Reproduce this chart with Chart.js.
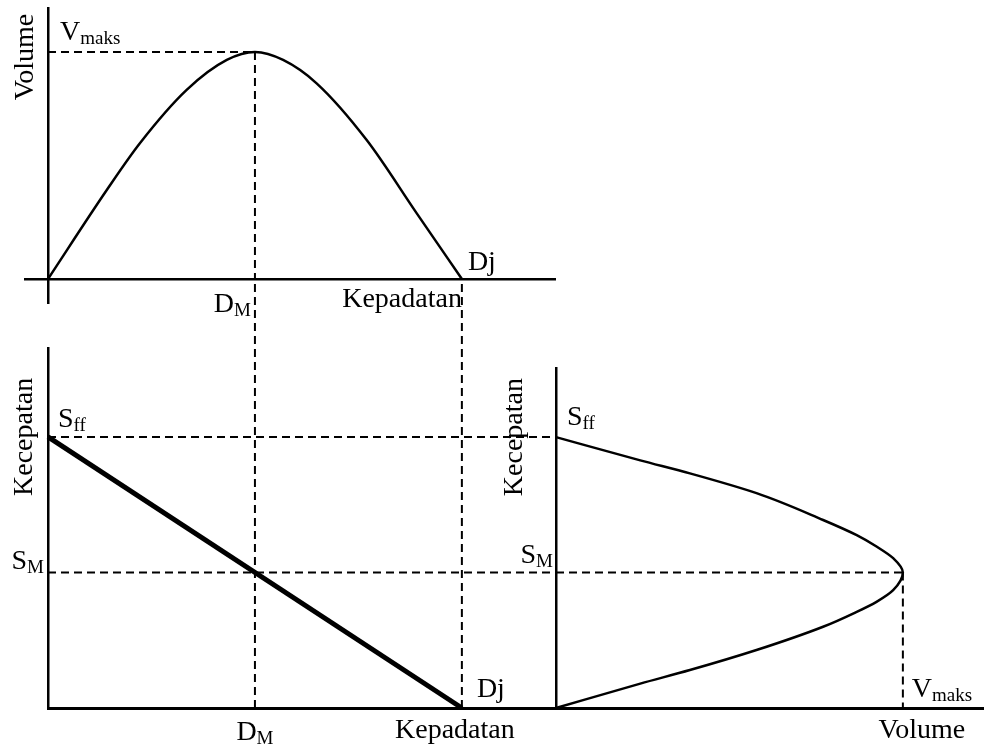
<!DOCTYPE html>
<html>
<head>
<meta charset="utf-8">
<title>Hubungan Volume, Kecepatan dan Kepadatan</title>
<script src="https://cdn.jsdelivr.net/npm/chart.js@4.4.0/dist/chart.umd.min.js"></script>
<style>
  html, body { margin: 0; padding: 0; background: #fff; }
  #wrap { position: relative; width: 988px; height: 747px; }
  #wrap canvas { position: absolute; left: 0; top: 0; }
</style>
</head>
<body>
<div id="wrap">
  <canvas id="flowChart" width="988" height="747"></canvas>
  <canvas id="speedChart" width="988" height="747"></canvas>
  <canvas id="svChart" width="988" height="747"></canvas>
</div>
<script>
// key points, normalised units
const D_M = 0.5, D_J = 1, V_MAKS = 1, S_FF = 1, S_M = 0.5;

// Volume vs Kepadatan (top panel)
const flowDensity = [0, 0.142, 0.222, 0.335, 0.432, 0.5, 0.568, 0.649, 0.77, 0.891, 1];
const flowVolume  = [0, 0.392, 0.598, 0.833, 0.965, 1, 0.965, 0.862, 0.612, 0.289, 0];

// Kecepatan vs Kepadatan (bottom left)
const speedDensity = [0, 1];
const speedValue   = [1, 0];

// Kecepatan vs Volume (bottom right), traced from S_ff down to zero
const svSpeed  = [1, 0.914, 0.866, 0.793, 0.694, 0.638, 0.596, 0.553, 0.5, 0.435, 0.392, 0.355, 0.3, 0.214, 0.14, 0.09, 0];
const svVolume = [0, 0.243, 0.386, 0.578, 0.77, 0.867, 0.924, 0.972, 1, 0.972, 0.924, 0.867, 0.77, 0.578, 0.386, 0.243, 0];

// speed value (lower panel) reached by the vertical guides at the upper axis
const GUIDE_TOP = 1.583;

const FONT = '"Liberation Serif", "Times New Roman", serif';
const MAIN = 28, SUB = 19;

const pts = (xs, ys) => xs.map((x, i) => ({ x: x, y: ys[i] }));

function guide(data) {
    return {
        data: data, showLine: true, borderColor: '#000', borderWidth: 2,
        borderDash: [8, 5], pointRadius: 0, tension: 0, clip: false
    };
}

function curve(data, width, extra) {
    return Object.assign({
        data: data, showLine: true, borderColor: '#000', borderWidth: width,
        pointRadius: 0, clip: false
    }, extra || {});
}

function axes(xMin, xMax, yMin, yMax, xWidth, yWidth) {
    const common = { type: 'linear', grid: { display: false }, ticks: { display: false } };
    return {
        x: Object.assign({}, common, { min: xMin, max: xMax, position: { y: 0 }, border: { color: '#000', width: xWidth } }),
        y: Object.assign({}, common, { min: yMin, max: yMax, position: { x: 0 }, border: { color: '#000', width: yWidth } })
    };
}

function drawLabel(ctx, main, sub, x, y, align) {
    ctx.save();
    ctx.fillStyle = '#000';
    ctx.textAlign = 'left';
    ctx.textBaseline = 'alphabetic';
    ctx.font = MAIN + 'px ' + FONT;
    const w1 = ctx.measureText(main).width;
    let w2 = 0;
    if (sub) {
        ctx.font = SUB + 'px ' + FONT;
        w2 = ctx.measureText(sub).width;
    }
    const total = w1 + w2;
    const left = align === 'right' ? x - total : align === 'center' ? x - total / 2 : x;
    ctx.font = MAIN + 'px ' + FONT;
    ctx.fillText(main, left, y);
    if (sub) {
        ctx.font = SUB + 'px ' + FONT;
        ctx.fillText(sub, left + w1, y + 4);
    }
    ctx.restore();
}

function drawVertical(ctx, text, x, cy) {
    ctx.save();
    ctx.translate(x, cy);
    ctx.rotate(-Math.PI / 2);
    ctx.fillStyle = '#000';
    ctx.font = MAIN + 'px ' + FONT;
    ctx.textAlign = 'center';
    ctx.textBaseline = 'alphabetic';
    ctx.fillText(text, 0, 0);
    ctx.restore();
}

function baseOptions(padding, scales) {
    return {
        responsive: false,
        animation: false,
        layout: { padding: padding },
        plugins: { legend: { display: false }, tooltip: { enabled: false } },
        scales: scales
    };
}

// top panel: Volume - Kepadatan
new Chart(document.getElementById('flowChart'), {
    type: 'scatter',
    data: {
        datasets: [
            curve(pts(flowDensity, flowVolume), 2.5, { cubicInterpolationMode: 'monotone' }),
            guide([{ x: 0, y: V_MAKS }, { x: D_M, y: V_MAKS }]),
            guide([{ x: D_M, y: V_MAKS }, { x: D_M, y: 0 }])
        ]
    },
    options: baseOptions({ left: 25, top: 8, right: 433, bottom: 444 },
        axes(-0.0556, 1.225, -0.106, 1.194, 2.5, 2.5)),
    plugins: [{
        id: 'flowLabels',
        afterDraw(chart) {
            const ctx = chart.ctx, sx = chart.scales.x, sy = chart.scales.y;
            const x0 = sx.getPixelForValue(0), y0 = sy.getPixelForValue(0);
            drawVertical(ctx, 'Volume', x0 - 15, 57);
            drawLabel(ctx, 'V', 'maks', x0 + 12, sy.getPixelForValue(V_MAKS) - 12, 'left');
            drawLabel(ctx, 'D', 'M', sx.getPixelForValue(D_M) - 4, y0 + 33, 'right');
            drawLabel(ctx, 'Kepadatan', '', sx.getPixelForValue(D_J), y0 + 28, 'right');
            drawLabel(ctx, 'Dj', '', sx.getPixelForValue(D_J) + 6, y0 - 9, 'left');
        }
    }]
});

// bottom left: Kecepatan - Kepadatan
new Chart(document.getElementById('speedChart'), {
    type: 'scatter',
    data: {
        datasets: [
            curve(pts(speedDensity, speedValue), 5, { tension: 0 }),
            guide([{ x: 0, y: S_FF }, { x: 1.225, y: S_FF }]),
            guide([{ x: 0, y: S_M }, { x: 1.225, y: S_M }]),
            guide([{ x: D_M, y: 0 }, { x: D_M, y: GUIDE_TOP }]),
            guide([{ x: D_J, y: 0 }, { x: D_J, y: GUIDE_TOP }])
        ]
    },
    options: baseOptions({ left: 48, top: 348, right: 433, bottom: 39 },
        axes(0, 1.225, 0, 1.328, 3, 2.5)),
    plugins: [{
        id: 'speedLabels',
        afterDraw(chart) {
            const ctx = chart.ctx, sx = chart.scales.x, sy = chart.scales.y;
            const x0 = sx.getPixelForValue(0), y0 = sy.getPixelForValue(0);
            drawVertical(ctx, 'Kecepatan', x0 - 16, sy.getPixelForValue(S_FF));
            drawLabel(ctx, 'S', 'ff', x0 + 10, sy.getPixelForValue(S_FF) - 10, 'left');
            drawLabel(ctx, 'S', 'M', x0 - 4, sy.getPixelForValue(S_M) - 3, 'right');
            drawLabel(ctx, 'Dj', '', sx.getPixelForValue(D_J) + 15, y0 - 11, 'left');
            drawLabel(ctx, 'D', 'M', sx.getPixelForValue(D_M), y0 + 32, 'center');
            drawLabel(ctx, 'Kepadatan', '', sx.getPixelForValue(D_J) - 7, y0 + 30, 'center');
        }
    }]
});

// bottom right: Kecepatan - Volume (volume interpolated as a function of speed)
new Chart(document.getElementById('svChart'), {
    type: 'line',
    data: {
        datasets: [
            curve(pts(svVolume, svSpeed), 2.5, { indexAxis: 'y', cubicInterpolationMode: 'monotone' }),
            guide([{ x: 0, y: S_M }, { x: V_MAKS, y: S_M }]),
            guide([{ x: V_MAKS, y: S_M }, { x: V_MAKS, y: 0 }])
        ]
    },
    options: baseOptions({ left: 556, top: 368, right: 5, bottom: 39 },
        axes(0, 1.231, 0, 1.255, 3, 2.5)),
    plugins: [{
        id: 'svLabels',
        afterDraw(chart) {
            const ctx = chart.ctx, sx = chart.scales.x, sy = chart.scales.y;
            const x0 = sx.getPixelForValue(0), y0 = sy.getPixelForValue(0);
            drawVertical(ctx, 'Kecepatan', x0 - 34, sy.getPixelForValue(S_FF));
            drawLabel(ctx, 'S', 'ff', x0 + 11, sy.getPixelForValue(S_FF) - 12, 'left');
            drawLabel(ctx, 'S', 'M', x0 - 3, sy.getPixelForValue(S_M) - 10, 'right');
            drawLabel(ctx, 'V', 'maks', sx.getPixelForValue(V_MAKS) + 9, y0 - 11, 'left');
            drawLabel(ctx, 'Volume', '', sx.getPixelForValue(V_MAKS) + 19, y0 + 30, 'center');
        }
    }]
});
</script>
</body>
</html>
